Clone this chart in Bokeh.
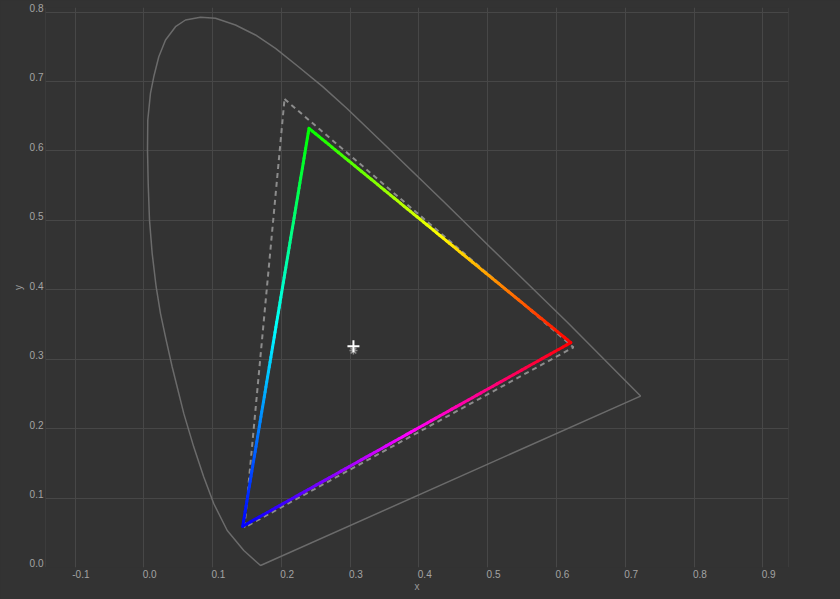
import colorsys
from bokeh.plotting import figure
from bokeh.models import FixedTicker, GlobalInlineStyleSheet, Range1d, LinearAxis
from bokeh.embed import file_html
from bokeh.resources import INLINE

# ---- data ----
locus_x = [0.1697, 0.1454, 0.1213, 0.1018, 0.0872, 0.0727, 0.0582, 0.0413,
           0.0326, 0.0243, 0.0180, 0.0122, 0.0083, 0.0064, 0.0054, 0.0058,
           0.0097, 0.0145, 0.0218, 0.0316, 0.0461, 0.0606, 0.0824, 0.1042,
           0.1333, 0.1624, 0.1915, 0.2244, 0.2601, 0.2954, 0.3306, 0.3658,
           0.4358, 0.5032, 0.5650, 0.6161, 0.7222, 0.1697]
locus_y = [0.0029, 0.0245, 0.0533, 0.0918, 0.1302, 0.1734, 0.2216, 0.2887,
           0.3272, 0.3657, 0.4040, 0.4522, 0.5002, 0.5531, 0.6011, 0.6444,
           0.6828, 0.7067, 0.7356, 0.7596, 0.7788, 0.7885, 0.7924, 0.7909,
           0.7813, 0.7669, 0.7477, 0.7215, 0.6925, 0.6610, 0.6275, 0.5940,
           0.5270, 0.4616, 0.4022, 0.3529, 0.2469, 0.0029]

gamut_x = [0.2402, 0.6208, 0.1438]   # green, red, blue
gamut_y = [0.6324, 0.3239, 0.0594]
ref_x = [0.2046, 0.6247, 0.1464]
ref_y = [0.6746, 0.3171, 0.0577]
edge_hues = [(120, 0), (360, 240), (240, 120)]

white_x = [0.3048]
white_y = [0.3185]
target_x = [0.3048]
target_y = [0.3124]

x_ticks = [-0.1, 0.0, 0.1, 0.2, 0.3, 0.4, 0.5, 0.6, 0.7, 0.8, 0.9]
x_tick_labels = ["-0.1", "0.0", "0.1", "0.2", "0.3", "0.4", "0.5", "0.6", "0.7", "0.8", "0.9"]
y_ticks = [0.0, 0.1, 0.2, 0.3, 0.4, 0.5, 0.6, 0.7, 0.8]
y_tick_labels = ["0.0", "0.1", "0.2", "0.3", "0.4", "0.5", "0.6", "0.7", "0.8"]

X_MIN, X_MAX = -0.1429, 0.9373
Y_MIN, Y_MAX = 0.0, 0.8
Y_TOP_PAD = 0.0065        # room above the top grid line for the "0.8" label
X_LABEL_SHIFT = 0.0085    # x tick labels start at their grid line
Y_LABEL_SHIFT = 0.0058    # y tick labels sit just above their grid line

BG = "#333333"
GRID = "#474747"
LABEL = "#a3a3a3"
FONT = "Liberation Sans"

css = GlobalInlineStyleSheet(css="html, body {margin:0; padding:0; background-color:#333333; overflow:hidden;}")

p = figure(width=840, height=599, x_range=(X_MIN, X_MAX), y_range=(Y_MIN, Y_MAX + Y_TOP_PAD),
           output_backend="svg", toolbar_location=None,
           min_border_left=45, min_border_top=7, min_border_right=52, min_border_bottom=32,
           background_fill_color=BG, border_fill_color=BG,
           outline_line_color=None)
p.stylesheets = [css]

p.extra_x_ranges = {"xlab": Range1d(X_MIN - X_LABEL_SHIFT, X_MAX - X_LABEL_SHIFT)}
p.extra_y_ranges = {"ylab": Range1d(Y_MIN - Y_LABEL_SHIFT, Y_MAX + Y_TOP_PAD - Y_LABEL_SHIFT)}
p.xaxis.visible = False
p.yaxis.visible = False
xax = LinearAxis(x_range_name="xlab")
yax = LinearAxis(y_range_name="ylab")
p.add_layout(xax, "below")
p.add_layout(yax, "left")

for ax, ticks, labels in ((xax, x_ticks, x_tick_labels), (yax, y_ticks, y_tick_labels)):
    ax.ticker = FixedTicker(ticks=ticks)
    ax.major_label_overrides = {t: s for t, s in zip(ticks, labels)}
    ax.major_tick_out = 0
    ax.major_tick_in = 0
    ax.minor_tick_out = 0
    ax.minor_tick_in = 0
    ax.axis_line_color = None
    ax.major_label_standoff = 2
    ax.major_label_text_font = FONT
    ax.major_label_text_font_size = "10px"
    ax.major_label_text_color = LABEL
    ax.axis_label_text_font = FONT
    ax.axis_label_text_font_size = "10px"
    ax.axis_label_text_font_style = "normal"
    ax.axis_label_text_color = "#9a9a9a"

xax.axis_label = "x"
xax.axis_label_standoff = 0
yax.axis_label = "y"
yax.axis_label_standoff = 3

# grid; the outer vertical lines close the frame, all bounded to the y span
p.xgrid.ticker = FixedTicker(ticks=[X_MIN + 0.0007] + x_ticks + [X_MAX - 0.0007])
p.xgrid.bounds = (Y_MIN, Y_MAX)
p.ygrid.ticker = FixedTicker(ticks=y_ticks)
p.grid.grid_line_color = GRID
p.grid.grid_line_width = 1

# spectral locus
p.line(locus_x, locus_y, line_color="#6b6b6b", line_width=1.5)

# reference gamut (dashed)
p.line(ref_x + ref_x[:1], ref_y + ref_y[:1], line_color="#8c8c8c", line_width=2,
       line_dash="5 4")

# measured gamut with hue gradient edges
N = 80
x0s, y0s, x1s, y1s, cols = [], [], [], [], []
for i in range(3):
    ax_, ay_ = gamut_x[i], gamut_y[i]
    bx_, by_ = gamut_x[(i + 1) % 3], gamut_y[(i + 1) % 3]
    h0, h1 = edge_hues[i]
    for k in range(N):
        t0, t1 = k / N, (k + 1) / N
        tm = (t0 + t1) / 2
        x0s.append(ax_ + (bx_ - ax_) * t0)
        y0s.append(ay_ + (by_ - ay_) * t0)
        x1s.append(ax_ + (bx_ - ax_) * t1)
        y1s.append(ay_ + (by_ - ay_) * t1)
        h = ((h0 + (h1 - h0) * tm) % 360) / 360.0
        r, g, b = colorsys.hsv_to_rgb(h, 1.0, 1.0)
        cols.append("#%02x%02x%02x" % (int(r * 255), int(g * 255), int(b * 255)))
p.segment(x0=x0s, y0=y0s, x1=x1s, y1=y1s, line_color=cols, line_width=3,
          line_cap="round")

# white point markers
p.scatter(target_x, target_y, marker="asterisk", size=8, line_color="#8a8a8a", line_width=1.5)
p.scatter(white_x, white_y, marker="cross", size=12, line_color="#ffffff", line_width=2)

open("out.html", "w").write(file_html(p, INLINE))
